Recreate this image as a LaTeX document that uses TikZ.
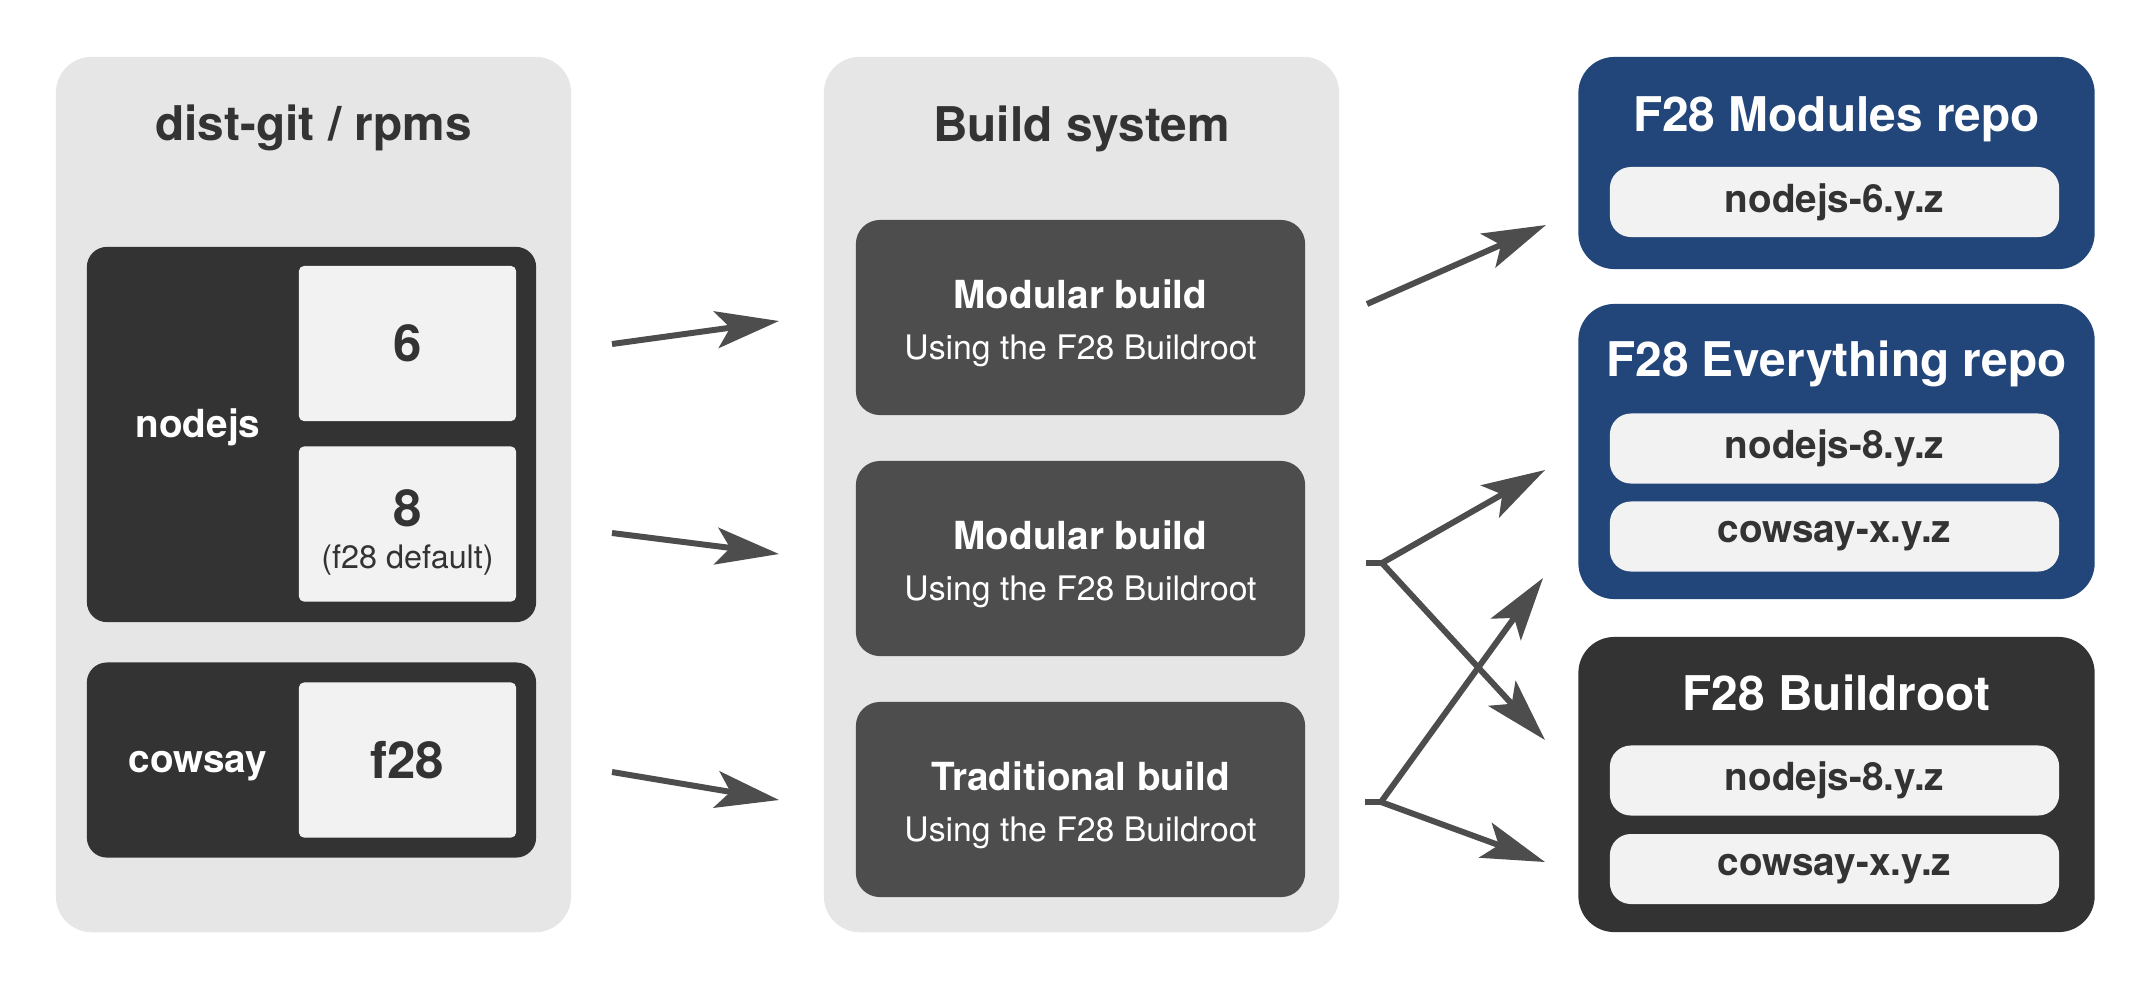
\documentclass[tikz,border=0pt]{standalone}
\usepackage{fontspec}
\setmainfont{TeX Gyre Heros}
\usepackage{xcolor}
\usepackage{tikz}
\usetikzlibrary{positioning,arrows.meta}
\definecolor{panelgray}{HTML}{E6E6E6}
\definecolor{darkbox}{HTML}{333333}
\definecolor{buildgray}{HTML}{4D4D4D}
\definecolor{lightbox}{HTML}{F2F2F2}
\definecolor{repoblue}{HTML}{22467A}

\begin{document}
\begin{tikzpicture}[x=0.01cm, y=-0.01cm,
  panel/.style={rectangle, rounded corners=0.36cm, fill=panelgray, minimum width=5.15cm, minimum height=8.75cm, inner sep=0pt},
  repo/.style={rectangle, rounded corners=0.36cm, minimum width=5.16cm, inner sep=0pt},
  pkg/.style={rectangle, rounded corners=0.2cm, fill=darkbox, minimum width=4.49cm, inner sep=0pt},
  ver/.style={rectangle, rounded corners=0.05cm, fill=lightbox, text=darkbox, minimum width=2.17cm, minimum height=1.55cm, inner sep=0pt, font=\fontsize{14.5}{17}\selectfont\bfseries},
  build/.style={rectangle, rounded corners=0.24cm, fill=buildgray, minimum width=4.49cm, minimum height=1.95cm, inner sep=0pt},
  artifact/.style={rectangle, rounded corners=0.21cm, fill=lightbox, text=darkbox, minimum width=4.49cm, minimum height=0.70cm, inner sep=0pt, font=\fontsize{11}{13}\selectfont\bfseries},
  ttl/.style={anchor=base, inner sep=0pt, font=\fontsize{13.6}{16}\selectfont\bfseries},
  lbl/.style={anchor=base, inner sep=0pt, text=white, font=\fontsize{11}{13}\selectfont\bfseries},
  sub/.style={anchor=base, inner sep=0pt, text=white, font=\fontsize{9.6}{12}\selectfont},
  flow/.style={draw=buildgray, line width=1.7pt, -{Stealth[length=18pt, width=10.5pt, inset=4pt]}},
  wire/.style={draw=buildgray, line width=1.7pt}
]
\useasboundingbox (0,0) rectangle (2143,981);

% sources
\node[panel] (dist) at (313.5,494.5) {};
\node[ttl, text=darkbox] (distT) at (313.5,140) {dist-git / rpms};
\node[pkg, minimum height=3.75cm] (nodejs) at (311.5,434.5) {};
\node[lbl] (nodejsL) at (198,437) {nodejs};
\node[ver] (v6) at (407.5,343.5) {6};
\node[ver] (v8) at (407.5,524) {};
\node[inner sep=0pt, text=darkbox, font=\fontsize{14.5}{17}\selectfont\bfseries] (v8L) at (407.5,508) {8};
\node[anchor=base, inner sep=0pt, text=darkbox, font=\fontsize{9.2}{11}\selectfont] (v8N) at (407.5,568) {(f28 default)};
\node[pkg, minimum height=1.95cm] (cowsay) at (311.5,760) {};
\node[lbl] (cowsayL) at (198,772) {cowsay};
\node[ver] (vf28) at (407.5,760) {f28};

% build system
\node[panel] (bsys) at (1081.5,494.5) {};
\node[ttl, text=darkbox] (bsysT) at (1081.5,141) {Build system};
\node[build] (b1) at (1080.5,317.5) {};
\node[lbl] (b1T) at (1080.5,308) {Modular build};
\node[sub] (b1S) at (1080.5,359) {Using the F28 Buildroot};
\node[build] (b2) at (1080.5,558.5) {};
\node[lbl] (b2T) at (1080.5,549) {Modular build};
\node[sub] (b2S) at (1080.5,600) {Using the F28 Buildroot};
\node[build] (b3) at (1080.5,799.5) {};
\node[lbl] (b3T) at (1080.5,790) {Traditional build};
\node[sub] (b3S) at (1080.5,841) {Using the F28 Buildroot};

% repos
\node[repo, fill=repoblue, minimum height=2.12cm] (mods) at (1836.5,163) {};
\node[ttl, text=white] (modsT) at (1836.5,131) {F28 Modules repo};
\node[artifact] (mods1) at (1834.5,202) {nodejs-6.y.z};
\node[repo, fill=repoblue, minimum height=2.95cm] (every) at (1836.5,451.5) {};
\node[ttl, text=white] (everyT) at (1836.5,376) {F28 Everything repo};
\node[artifact] (every1) at (1834.5,448.5) {nodejs-8.y.z};
\node[artifact] (every2) at (1834.5,536.5) {cowsay-x.y.z};
\node[repo, fill=darkbox, minimum height=2.95cm] (broot) at (1836.5,784.5) {};
\node[ttl, text=white] (brootT) at (1836.5,710) {F28 Buildroot};
\node[artifact] (broot1) at (1834.5,780.5) {nodejs-8.y.z};
\node[artifact] (broot2) at (1834.5,869) {cowsay-x.y.z};

% arrow ends
\coordinate (in1) at (612,344);  \coordinate (to1) at (779,321);
\coordinate (in2) at (612,533);  \coordinate (to2) at (779,554);
\coordinate (in3) at (612,772);  \coordinate (to3) at (779,800);
\coordinate (out1) at (1367,304); \coordinate (mods1in) at (1546,225);
\coordinate (out2) at (1366,563); \coordinate (fork2) at (1382,563);
\coordinate (out3) at (1365,802); \coordinate (fork3) at (1381,802);
\coordinate (every1in) at (1545,470); \coordinate (every2in) at (1543,578);
\coordinate (broot1in) at (1545,740); \coordinate (broot2in) at (1545,862);

\draw[flow] (in1) -- (to1);
\draw[flow] (in2) -- (to2);
\draw[flow] (in3) -- (to3);
\draw[flow] (out1) -- (mods1in);
\draw[wire] (out2) -- (fork2);
\draw[flow] (fork2) -- (every1in);
\draw[flow] (fork2) -- (broot1in);
\draw[wire] (out3) -- (fork3);
\draw[flow] (fork3) -- (every2in);
\draw[flow] (fork3) -- (broot2in);
\end{tikzpicture}
\end{document}
